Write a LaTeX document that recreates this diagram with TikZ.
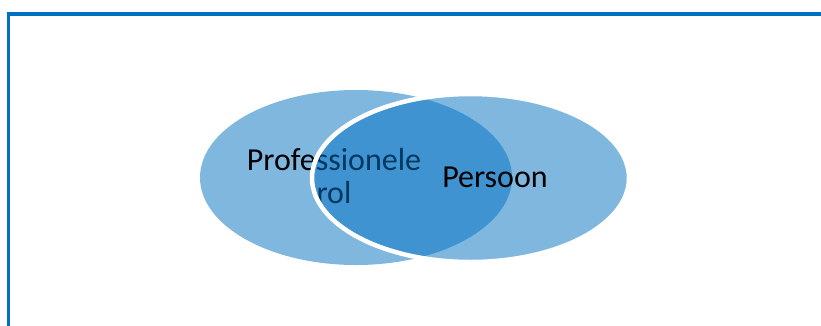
\documentclass[tikz,border=0pt]{standalone}
\usepackage{fontspec}
\setmainfont{Carlito}
\usepackage{xcolor}
\usetikzlibrary{shapes.geometric}
\definecolor{framblue}{HTML}{0070C0}

\begin{document}
\begin{tikzpicture}[x=1pt, y=-1pt,
        circ/.style={ellipse, inner sep=0pt, fill=framblue, fill opacity=0.5},
        lbl/.style={font=\fontsize{32}{33}\selectfont, align=center, anchor=base}]
        \useasboundingbox (0,0) rectangle (821,325);

        % frame
        \coordinate (fbot) at (8.7,330);
        \coordinate (fcorner) at (8.7,14);
        \coordinate (fright) at (830,14);
        \draw[framblue, line width=3.5pt] (fbot) -- (fcorner) -- (fright);

        \node[circ, minimum width=312pt, minimum height=175pt] (prof) at (356,177.5) {};
        \node[lbl] (proftext) at (334,203) {Professionele\\rol};

        \node[circ, draw=white, line width=4.5pt,
            minimum width=317pt, minimum height=168pt] (pers) at (470.5,178) {};
        \node[lbl] (perstext) at (495,187) {Persoon};
    \end{tikzpicture}
\end{document}
